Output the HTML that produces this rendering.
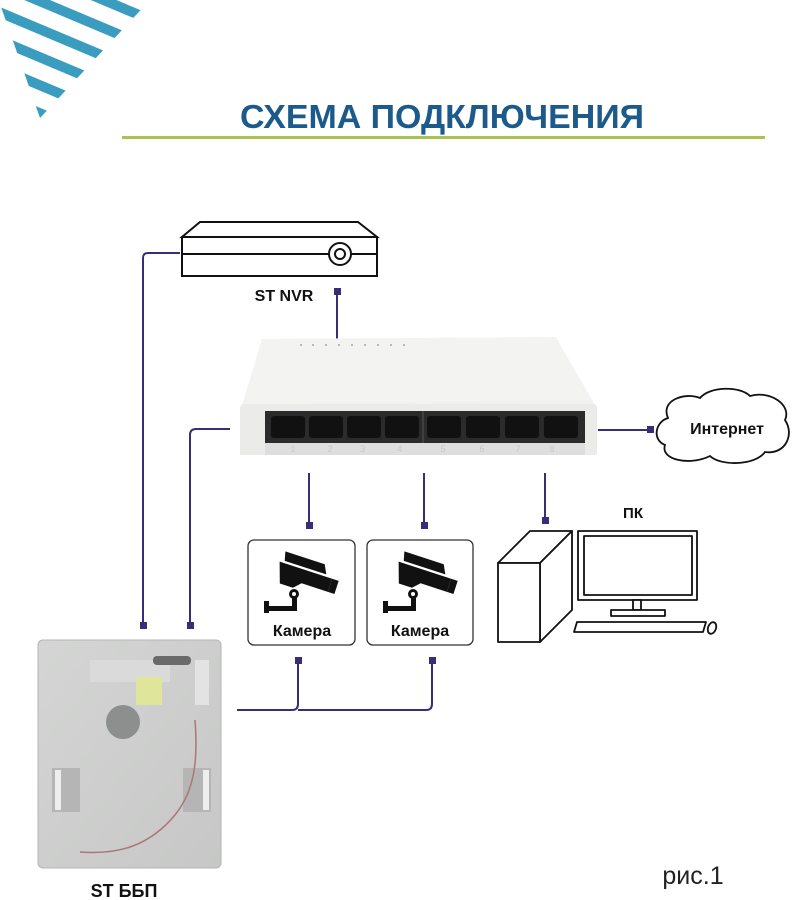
<!DOCTYPE html>
<html><head><meta charset="utf-8"><style>
html,body{margin:0;padding:0;background:#fff;}
svg{display:block;}
text{font-family:"Liberation Sans",sans-serif;}
</style></head><body>
<svg width="793" height="900" viewBox="0 0 793 900" xmlns="http://www.w3.org/2000/svg">
<defs>
<clipPath id="tri"><polygon points="0,0 150,0 40,118 0,4"/></clipPath>
<linearGradient id="sw" x1="0" y1="0" x2="0" y2="1"><stop offset="0" stop-color="#f7f7f7"/><stop offset="1" stop-color="#ececec"/></linearGradient>
<linearGradient id="bb" x1="0" y1="0" x2="1" y2="1"><stop offset="0" stop-color="#d4d5d4"/><stop offset="1" stop-color="#c6c7c6"/></linearGradient>
</defs>
<!-- stripes -->
<g clip-path="url(#tri)" stroke="#3a9dc0" stroke-width="10">
<line x1="-20" y1="4" x2="220" y2="105"/>
<line x1="-20" y1="32" x2="220" y2="133"/>
<line x1="-20" y1="60" x2="220" y2="161"/>
<line x1="-20" y1="88" x2="220" y2="189"/>
<line x1="-20" y1="-24" x2="220" y2="77"/>
<line x1="-20" y1="-52" x2="220" y2="49"/>
<line x1="-20" y1="-80" x2="220" y2="21"/>
<line x1="-20" y1="-108" x2="220" y2="-7"/>
</g>
<text x="442" y="128" text-anchor="middle" font-size="33" font-weight="bold" fill="#1d5a8c" textLength="404" lengthAdjust="spacingAndGlyphs">СХЕМА ПОДКЛЮЧЕНИЯ</text>
<rect x="122" y="136" width="643" height="3" fill="#a9c34f"/>

<!-- NVR -->
<g fill="none" stroke="#111" stroke-width="2">
<polygon points="182,237 200,222 358,222 377,237"/>
<rect x="182" y="237" width="195" height="39"/>
<line x1="182" y1="254" x2="329" y2="254"/>
<line x1="351" y1="254" x2="377" y2="254"/>
<circle cx="340" cy="254" r="11"/>
<circle cx="340" cy="254" r="5"/>
</g>
<text x="284" y="301" text-anchor="middle" font-size="16" font-weight="bold" fill="#111">ST NVR</text>

<!-- connectors -->
<g stroke="#3a2d78" stroke-width="2" fill="none">
<path d="M337,291 V346"/>
<path d="M180,253 H148 Q143,253 143,258 V625"/>
<path d="M230,429 H196 Q190,429 190,435 V625"/>
<path d="M309,473 V525"/>
<path d="M424,473 V525"/>
<path d="M545,473 V520"/>
<path d="M598,430 H650"/>
<path d="M298,662 V704 Q298,710 292,710 H237"/>
<path d="M298,710 H426 Q432,710 432,704 V662"/>
</g>
<g fill="#3a2d78">
<rect x="334" y="288" width="7" height="7"/>
<rect x="140" y="622" width="7" height="7"/>
<rect x="187" y="622" width="7" height="7"/>
<rect x="306" y="522" width="7" height="7"/>
<rect x="421" y="522" width="7" height="7"/>
<rect x="542" y="517" width="7" height="7"/>
<rect x="647" y="426" width="7" height="7"/>
<rect x="295" y="657" width="7" height="7"/>
<rect x="429" y="657" width="7" height="7"/>
</g>

<!-- switch -->
<polygon points="262,339 556,337 595,405 597,455 240,455 240,412" fill="url(#sw)"/>
<polygon points="262,339 556,337 590,400 244,404" fill="#f3f3f2"/>
<rect x="240" y="404" width="357" height="51" rx="4" fill="#ebebea"/>
<rect x="265" y="411" width="320" height="32" fill="#2b2b2b"/>
<line x1="423" y1="411" x2="423" y2="443" stroke="#555"/>
<rect x="265" y="443" width="320" height="12" fill="#dedede"/>
<g fill="#111">
<rect x="271" y="416" width="34" height="22" rx="3"/><rect x="309" y="416" width="34" height="22" rx="3"/>
<rect x="347" y="416" width="34" height="22" rx="3"/><rect x="385" y="416" width="34" height="22" rx="3"/>
<rect x="427" y="416" width="34" height="22" rx="3"/><rect x="466" y="416" width="34" height="22" rx="3"/>
<rect x="505" y="416" width="34" height="22" rx="3"/><rect x="544" y="416" width="34" height="22" rx="3"/>
</g>
<g font-size="9" fill="#c8c8c8" text-anchor="middle">
<text x="293" y="452">1</text><text x="330" y="452">2</text><text x="363" y="452">3</text><text x="400" y="452">4</text>
<text x="443" y="452">5</text><text x="482" y="452">6</text><text x="518" y="452">7</text><text x="552" y="452">8</text>
</g>
<g fill="#9aa" >
<circle cx="301" cy="345" r="1"/><circle cx="313" cy="345" r="1"/><circle cx="326" cy="345" r="1"/><circle cx="339" cy="345" r="1"/>
<circle cx="352" cy="345" r="1"/><circle cx="365" cy="345" r="1"/><circle cx="378" cy="345" r="1"/><circle cx="391" cy="345" r="1"/><circle cx="404" cy="345" r="1"/>
</g>

<!-- cloud -->
<path d="M668,418 C660,400 685,392 700,398 C710,386 740,386 750,396 C770,390 792,405 785,420 C795,435 785,455 765,452 C755,466 720,466 710,456 C690,466 660,460 665,445 C652,440 655,422 668,418 Z" fill="#fff" stroke="#111" stroke-width="1.8"/>
<text x="727" y="434" text-anchor="middle" font-size="16" font-weight="bold" fill="#111">Интернет</text>

<!-- cameras -->
<rect x="248" y="540" width="107" height="105" rx="6" fill="#fff" stroke="#333" stroke-width="1.3"/>
<rect x="367" y="540" width="106" height="105" rx="6" fill="#fff" stroke="#333" stroke-width="1.3"/>
<g id="cam" fill="#111">
<g transform="translate(281,550) rotate(18) scale(1.15)">
<path d="M4,0 H40 L44,8 H6 Z"/>
<path d="M2,10 H50 V22 H26 L20,28 H8 Z"/>
<rect x="50" y="10" width="6" height="12"/>
</g>
<circle cx="294" cy="594" r="5"/><circle cx="294" cy="594" r="2" fill="#fff"/>
<rect x="264" y="601" width="5" height="12"/>
<rect x="264" y="606" width="33" height="5"/>
<rect x="292" y="598" width="5" height="11"/>
</g>
<use href="#cam" transform="translate(119,0)"/>
<text x="302" y="636" text-anchor="middle" font-size="16" font-weight="bold" fill="#111">Камера</text>
<text x="420" y="636" text-anchor="middle" font-size="16" font-weight="bold" fill="#111">Камера</text>

<!-- PC -->
<text x="633" y="518" text-anchor="middle" font-size="15" font-weight="bold" fill="#111">ПК</text>
<g fill="#fff" stroke="#111" stroke-width="1.8" stroke-linejoin="round">
<polygon points="498,563 530,531 572,531 540,563"/>
<polygon points="540,563 572,531 572,610 540,642"/>
<rect x="498" y="563" width="42" height="79"/>
<rect x="578" y="531" width="119" height="69"/>
<rect x="584" y="536" width="108" height="59"/>
<rect x="633" y="600" width="8" height="10"/>
<rect x="611" y="610" width="54" height="6"/>
<polygon points="577,622 706,622 703,632 574,632"/>
<ellipse cx="712" cy="628" rx="4" ry="6" transform="rotate(20 712 628)"/>
</g>

<!-- BBP -->
<rect x="38" y="640" width="183" height="228" rx="5" fill="url(#bb)" stroke="#b5b5b5"/>
<rect x="90" y="660" width="80" height="22" fill="#dcdcdc" opacity=".8"/>
<rect x="136" y="677" width="26" height="28" fill="#dfe69c"/>
<circle cx="123" cy="722" r="17" fill="#8d8f8e"/>
<rect x="153" y="656" width="38" height="9" rx="4" fill="#6a6a6a"/>
<rect x="52" y="768" width="28" height="44" fill="#b4b5b4"/>
<rect x="55" y="770" width="6" height="40" fill="#eee"/>
<rect x="183" y="768" width="28" height="44" fill="#b4b5b4"/>
<rect x="203" y="770" width="6" height="40" fill="#eee"/>
<rect x="195" y="660" width="14" height="45" fill="#e3e3e3"/>
<path d="M80,852 C120,855 150,845 175,815 C195,790 198,760 195,720" stroke="#a9767a" stroke-width="1.5" fill="none"/>
<text x="124" y="897" text-anchor="middle" font-size="18" font-weight="bold" fill="#111">ST ББП</text>
<text x="693" y="884" text-anchor="middle" font-size="25" fill="#222">рис.1</text>
</svg>
</body></html>
